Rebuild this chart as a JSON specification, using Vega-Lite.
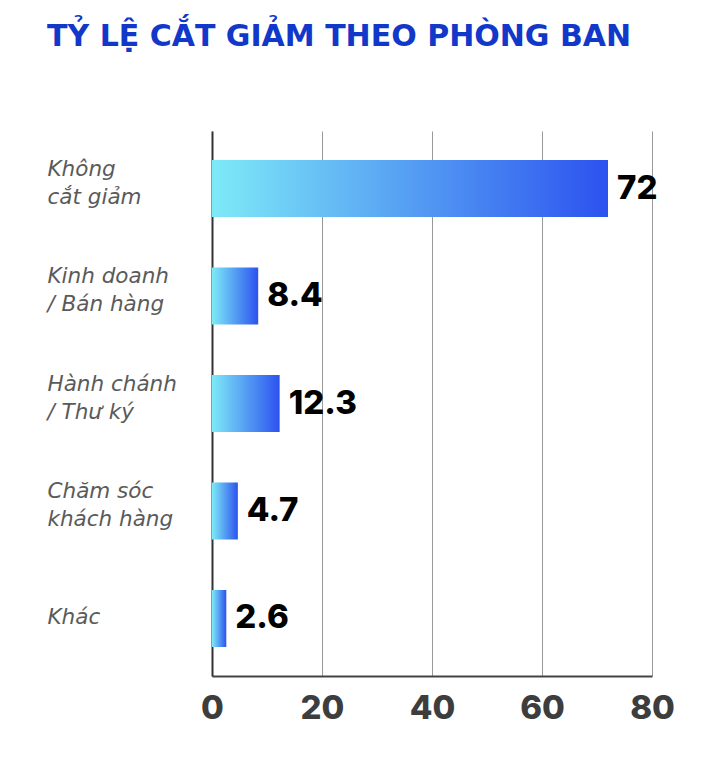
{
  "$schema": "https://vega.github.io/schema/vega-lite/v6.json",
  "width": 440,
  "height": 545,
  "padding": {"left": 47, "top": 22, "right": 0, "bottom": 0},
  "autosize": {"type": "pad"},
  "background": "white",
  "title": {
    "text": "TỶ LỆ CẮT GIẢM THEO PHÒNG BAN",
    "anchor": "start",
    "frame": "bounds",
    "font": "DejaVu Sans",
    "fontSize": 30,
    "fontWeight": "bold",
    "color": "#1238c9",
    "offset": 79
  },
  "data": {
    "values": [
      {"dept": "Không|cắt giảm", "pct": 72, "label": "72"},
      {"dept": "Kinh doanh|/ Bán hàng", "pct": 8.4, "label": "8.4"},
      {"dept": "Hành chánh|/ Thư ký", "pct": 12.3, "label": "12.3"},
      {"dept": "Chăm sóc|khách hàng", "pct": 4.7, "label": "4.7"},
      {"dept": "Khác", "pct": 2.6, "label": "2.6"}
    ]
  },
  "encoding": {
    "y": {
      "field": "dept",
      "type": "nominal",
      "sort": null,
      "title": null,
      "scale": {"paddingInner": 0.47, "paddingOuter": 0.27},
      "axis": {
        "domain": true,
        "domainColor": "#333333",
        "domainWidth": 2,
        "ticks": false,
        "labelAlign": "left",
        "labelPadding": 165,
        "labelFont": "DejaVu Sans",
        "labelFontStyle": "oblique",
        "labelFontSize": 21.5,
        "labelColor": "#5a5a5a",
        "labelLineHeight": 28,
        "labelLimit": 0,
        "labelOffset": {"condition": {"test": "indexof(datum.value, '|') >= 0", "value": -19}, "value": 0},
        "labelExpr": "split(datum.label, '|')"
      }
    },
    "x": {
      "field": "pct",
      "type": "quantitative",
      "title": null,
      "scale": {"domain": [0, 80]},
      "axis": {
        "values": [0, 20, 40, 60, 80],
        "domainColor": "#444444",
        "domainWidth": 2,
        "ticks": false,
        "grid": true,
        "gridColor": "#999999",
        "gridWidth": 1,
        "labelFont": "Inter",
        "labelFontSize": 33,
        "labelFontWeight": 800,
        "labelColor": "#3d3d3d",
        "labelPadding": 16,
        "labelFlush": false
      }
    }
  },
  "layer": [
    {
      "mark": {
        "type": "bar",
        "color": {
          "gradient": "linear",
          "x1": 0,
          "x2": 1,
          "y1": 0,
          "y2": 0,
          "stops": [
            {"offset": 0, "color": "#7eeaf7"},
            {"offset": 1, "color": "#2c52ef"}
          ]
        }
      }
    },
    {
      "mark": {
        "type": "text",
        "align": "left",
        "baseline": "middle",
        "dx": 9,
        "font": "Inter",
        "fontSize": 33,
        "fontWeight": 800,
        "color": "#000000"
      },
      "encoding": {"text": {"field": "label"}}
    }
  ],
  "config": {"view": {"stroke": null}}
}
